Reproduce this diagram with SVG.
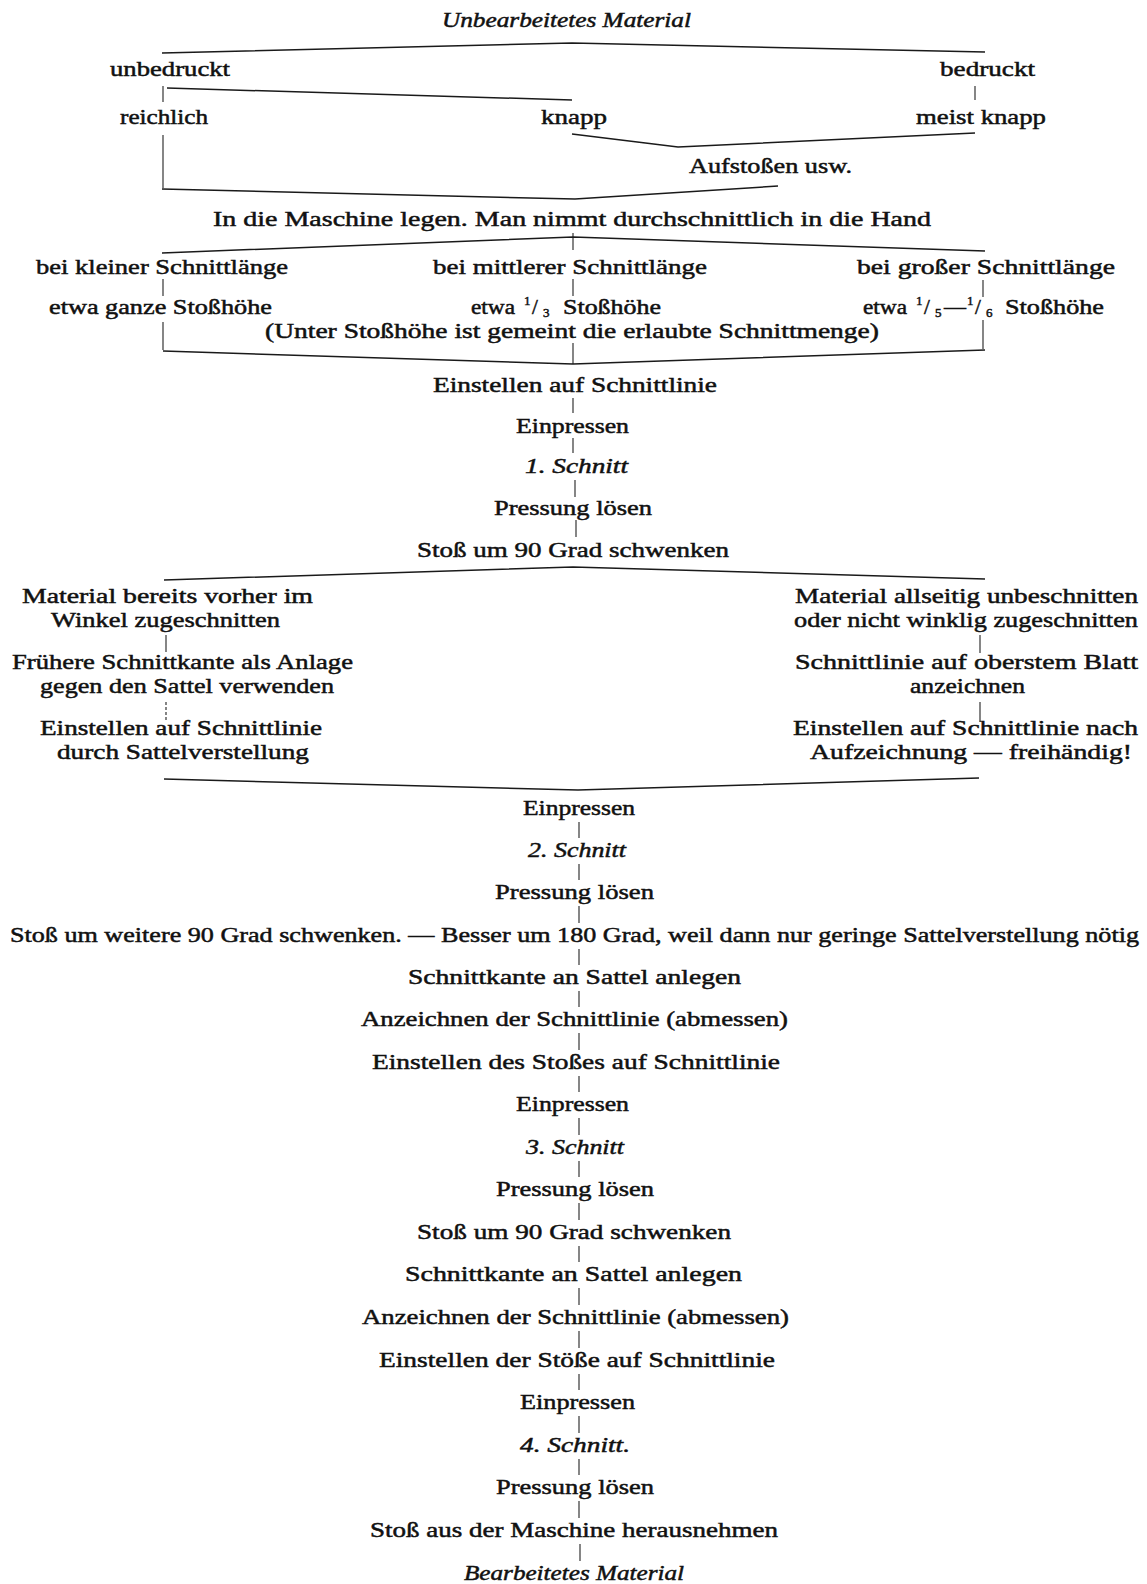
<svg xmlns="http://www.w3.org/2000/svg" width="1147" height="1584" viewBox="0 0 1147 1584">
<style>
.t{font-family:"Liberation Serif","DejaVu Serif",serif;font-size:22px;fill:#111;stroke:#111;stroke-width:0.5}
.i{font-style:italic}
.s{font-size:13px}
.r{font-size:21px}
.c{stroke:#1a1a1a;stroke-width:1.5;fill:none}
.v{stroke:#222;stroke-width:1.1;fill:none}
</style>
<rect width="1147" height="1584" fill="#fff"/>
<g id="connectors">
<polyline class="c" points="162,53 572,43 985,52"/>
<line class="v" x1="163" y1="86" x2="163" y2="102"/>
<line class="c" x1="167" y1="88" x2="572" y2="100"/>
<line class="v" x1="975" y1="86" x2="975" y2="100"/>
<polyline class="c" points="572,134 678,147 975,133"/>
<line class="v" x1="163" y1="135" x2="163" y2="188"/>
<polyline class="c" points="162,189 575,199 778,186"/>
<line class="v" x1="573" y1="233" x2="573" y2="250"/>
<polyline class="c" points="162,253 573,237 985,251"/>
<line class="v" x1="163" y1="279" x2="163" y2="296"/>
<line class="v" x1="573" y1="279" x2="573" y2="296"/>
<line class="v" x1="983" y1="280" x2="983" y2="297"/>
<line class="v" x1="163" y1="322" x2="163" y2="350"/>
<line class="v" x1="983" y1="320" x2="983" y2="349"/>
<line class="v" x1="573" y1="343" x2="573" y2="364"/>
<polyline class="c" points="163,351 573,364 985,350"/>
<line class="v" x1="573" y1="398" x2="573" y2="413"/>
<line class="v" x1="573" y1="438" x2="573" y2="453"/>
<line class="v" x1="575" y1="480" x2="575" y2="497"/>
<line class="v" x1="576" y1="520" x2="576" y2="537"/>
<polyline class="c" points="164,580 573,567 985,579"/>
<line class="v" x1="166" y1="635" x2="166" y2="652"/>
<line class="v" x1="166" y1="702" x2="166" y2="720" stroke-dasharray="3,2"/>
<line class="v" x1="980" y1="635" x2="980" y2="653"/>
<line class="v" x1="980" y1="702" x2="980" y2="722"/>
<polyline class="c" points="164,779 578,790 979,778"/>
<line class="v" x1="579" y1="822" x2="579" y2="838"/>
<line class="v" x1="579" y1="864" x2="579" y2="880"/>
<line class="v" x1="579" y1="906" x2="579" y2="923"/>
<line class="v" x1="579" y1="949" x2="579" y2="965"/>
<line class="v" x1="579" y1="991" x2="579" y2="1007"/>
<line class="v" x1="579" y1="1033" x2="579" y2="1050"/>
<line class="v" x1="579" y1="1076" x2="579" y2="1092"/>
<line class="v" x1="579" y1="1118" x2="579" y2="1135"/>
<line class="v" x1="579" y1="1161" x2="579" y2="1177"/>
<line class="v" x1="579" y1="1203" x2="579" y2="1220"/>
<line class="v" x1="579" y1="1246" x2="579" y2="1262"/>
<line class="v" x1="579" y1="1288" x2="579" y2="1305"/>
<line class="v" x1="579" y1="1331" x2="579" y2="1348"/>
<line class="v" x1="579" y1="1374" x2="579" y2="1390"/>
<line class="v" x1="579" y1="1416" x2="579" y2="1433"/>
<line class="v" x1="579" y1="1459" x2="579" y2="1475"/>
<line class="v" x1="579" y1="1501" x2="579" y2="1518"/>
<line class="v" x1="580" y1="1544" x2="580" y2="1561"/>
</g>
<g id="n-unbearbeitet"><text class="t i" x="442" y="27" textLength="249" lengthAdjust="spacingAndGlyphs">Unbearbeitetes Material</text></g>
<g id="n-unbedruckt"><text class="t" x="110" y="76" textLength="120" lengthAdjust="spacingAndGlyphs">unbedruckt</text></g>
<g id="n-bedruckt"><text class="t" x="940" y="76" textLength="95" lengthAdjust="spacingAndGlyphs">bedruckt</text></g>
<g id="n-reichlich"><text class="t" x="120" y="124" textLength="88" lengthAdjust="spacingAndGlyphs">reichlich</text></g>
<g id="n-knapp"><text class="t" x="541" y="124" textLength="66" lengthAdjust="spacingAndGlyphs">knapp</text></g>
<g id="n-meistknapp"><text class="t" x="916" y="124" textLength="130" lengthAdjust="spacingAndGlyphs">meist knapp</text></g>
<g id="n-aufstossen"><text class="t" x="689" y="173" textLength="163" lengthAdjust="spacingAndGlyphs">Aufstoßen usw.</text></g>
<g id="n-maschine"><text class="t" x="213" y="226" textLength="718" lengthAdjust="spacingAndGlyphs">In die Maschine legen. Man nimmt durchschnittlich in die Hand</text></g>
<g id="n-klein">
<text class="t" x="36" y="274" textLength="252" lengthAdjust="spacingAndGlyphs">bei kleiner Schnittlänge</text>
<text class="t r" x="49" y="314" textLength="223" lengthAdjust="spacingAndGlyphs">etwa ganze Stoßhöhe</text>
</g>
<g id="n-mittel">
<text class="t" x="433" y="274" textLength="274" lengthAdjust="spacingAndGlyphs">bei mittlerer Schnittlänge</text>
<text class="t r" x="471" y="314" textLength="44" lengthAdjust="spacingAndGlyphs">etwa</text>
<text class="t s" x="524" y="305">1</text>
<text class="t r" x="532" y="314">/</text>
<text class="t s" x="543" y="317">3</text>
<text class="t r" x="563" y="314" textLength="98" lengthAdjust="spacingAndGlyphs">Stoßhöhe</text>
</g>
<g id="n-gross">
<text class="t" x="857" y="274" textLength="258" lengthAdjust="spacingAndGlyphs">bei großer Schnittlänge</text>
<text class="t r" x="863" y="314" textLength="44" lengthAdjust="spacingAndGlyphs">etwa</text>
<text class="t s" x="916" y="305">1</text>
<text class="t r" x="924" y="314">/</text>
<text class="t s" x="935" y="317">5</text>
<text class="t r" x="944" y="314" textLength="22" lengthAdjust="spacingAndGlyphs">—</text>
<text class="t s" x="967" y="305">1</text>
<text class="t r" x="975" y="314">/</text>
<text class="t s" x="986" y="317">6</text>
<text class="t r" x="1005" y="314" textLength="99" lengthAdjust="spacingAndGlyphs">Stoßhöhe</text>
</g>
<g id="n-hinweis"><text class="t r" x="265" y="338" textLength="614" lengthAdjust="spacingAndGlyphs">(Unter Stoßhöhe ist gemeint die erlaubte Schnittmenge)</text></g>
<g id="n-einstellen1"><text class="t" x="433" y="392" textLength="284" lengthAdjust="spacingAndGlyphs">Einstellen auf Schnittlinie</text></g>
<g id="n-einpressen1"><text class="t" x="516" y="433" textLength="113" lengthAdjust="spacingAndGlyphs">Einpressen</text></g>
<g id="n-schnitt1"><text class="t i" x="525" y="473" textLength="103" lengthAdjust="spacingAndGlyphs">1. Schnitt</text></g>
<g id="n-pressung1"><text class="t" x="494" y="515" textLength="158" lengthAdjust="spacingAndGlyphs">Pressung lösen</text></g>
<g id="n-schwenken1"><text class="t" x="417" y="557" textLength="312" lengthAdjust="spacingAndGlyphs">Stoß um 90 Grad schwenken</text></g>
<g id="n-links">
<text class="t" x="22" y="603" textLength="291" lengthAdjust="spacingAndGlyphs">Material bereits vorher im</text>
<text class="t" x="51" y="627" textLength="229" lengthAdjust="spacingAndGlyphs">Winkel zugeschnitten</text>
<text class="t" x="12" y="669" textLength="341" lengthAdjust="spacingAndGlyphs">Frühere Schnittkante als Anlage</text>
<text class="t" x="40" y="693" textLength="294" lengthAdjust="spacingAndGlyphs">gegen den Sattel verwenden</text>
<text class="t" x="40" y="735" textLength="282" lengthAdjust="spacingAndGlyphs">Einstellen auf Schnittlinie</text>
<text class="t" x="57" y="759" textLength="252" lengthAdjust="spacingAndGlyphs">durch Sattelverstellung</text>
</g>
<g id="n-rechts">
<text class="t" x="795" y="603" textLength="343" lengthAdjust="spacingAndGlyphs">Material allseitig unbeschnitten</text>
<text class="t" x="794" y="627" textLength="344" lengthAdjust="spacingAndGlyphs">oder nicht winklig zugeschnitten</text>
<text class="t" x="795" y="669" textLength="343" lengthAdjust="spacingAndGlyphs">Schnittlinie auf oberstem Blatt</text>
<text class="t" x="910" y="693" textLength="115" lengthAdjust="spacingAndGlyphs">anzeichnen</text>
<text class="t" x="793" y="735" textLength="345" lengthAdjust="spacingAndGlyphs">Einstellen auf Schnittlinie nach</text>
<text class="t" x="810" y="759" textLength="322" lengthAdjust="spacingAndGlyphs">Aufzeichnung — freihändig!</text>
</g>
<g id="n-einpressen2"><text class="t" x="523" y="815" textLength="112" lengthAdjust="spacingAndGlyphs">Einpressen</text></g>
<g id="n-schnitt2"><text class="t i" x="528" y="857" textLength="98" lengthAdjust="spacingAndGlyphs">2. Schnitt</text></g>
<g id="n-pressung2"><text class="t" x="495" y="899" textLength="159" lengthAdjust="spacingAndGlyphs">Pressung lösen</text></g>
<g id="n-schwenken2"><text class="t" x="10" y="942" textLength="1129" lengthAdjust="spacingAndGlyphs">Stoß um weitere 90 Grad schwenken. — Besser um 180 Grad, weil dann nur geringe Sattelverstellung nötig</text></g>
<g id="n-anlegen1"><text class="t" x="408" y="984" textLength="333" lengthAdjust="spacingAndGlyphs">Schnittkante an Sattel anlegen</text></g>
<g id="n-anzeichnen1"><text class="t" x="361" y="1026" textLength="427" lengthAdjust="spacingAndGlyphs">Anzeichnen der Schnittlinie (abmessen)</text></g>
<g id="n-einstellen2"><text class="t" x="372" y="1069" textLength="408" lengthAdjust="spacingAndGlyphs">Einstellen des Stoßes auf Schnittlinie</text></g>
<g id="n-einpressen3"><text class="t" x="516" y="1111" textLength="113" lengthAdjust="spacingAndGlyphs">Einpressen</text></g>
<g id="n-schnitt3"><text class="t i" x="526" y="1154" textLength="98" lengthAdjust="spacingAndGlyphs">3. Schnitt</text></g>
<g id="n-pressung3"><text class="t" x="496" y="1196" textLength="158" lengthAdjust="spacingAndGlyphs">Pressung lösen</text></g>
<g id="n-schwenken3"><text class="t" x="417" y="1239" textLength="314" lengthAdjust="spacingAndGlyphs">Stoß um 90 Grad schwenken</text></g>
<g id="n-anlegen2"><text class="t" x="405" y="1281" textLength="337" lengthAdjust="spacingAndGlyphs">Schnittkante an Sattel anlegen</text></g>
<g id="n-anzeichnen2"><text class="t" x="362" y="1324" textLength="427" lengthAdjust="spacingAndGlyphs">Anzeichnen der Schnittlinie (abmessen)</text></g>
<g id="n-einstellen3"><text class="t" x="379" y="1367" textLength="396" lengthAdjust="spacingAndGlyphs">Einstellen der Stöße auf Schnittlinie</text></g>
<g id="n-einpressen4"><text class="t" x="520" y="1409" textLength="115" lengthAdjust="spacingAndGlyphs">Einpressen</text></g>
<g id="n-schnitt4"><text class="t i" x="520" y="1452" textLength="110" lengthAdjust="spacingAndGlyphs">4. Schnitt.</text></g>
<g id="n-pressung4"><text class="t" x="496" y="1494" textLength="158" lengthAdjust="spacingAndGlyphs">Pressung lösen</text></g>
<g id="n-herausnehmen"><text class="t" x="370" y="1537" textLength="408" lengthAdjust="spacingAndGlyphs">Stoß aus der Maschine herausnehmen</text></g>
<g id="n-bearbeitet"><text class="t i" x="464" y="1580" textLength="220" lengthAdjust="spacingAndGlyphs">Bearbeitetes Material</text></g>
</svg>
